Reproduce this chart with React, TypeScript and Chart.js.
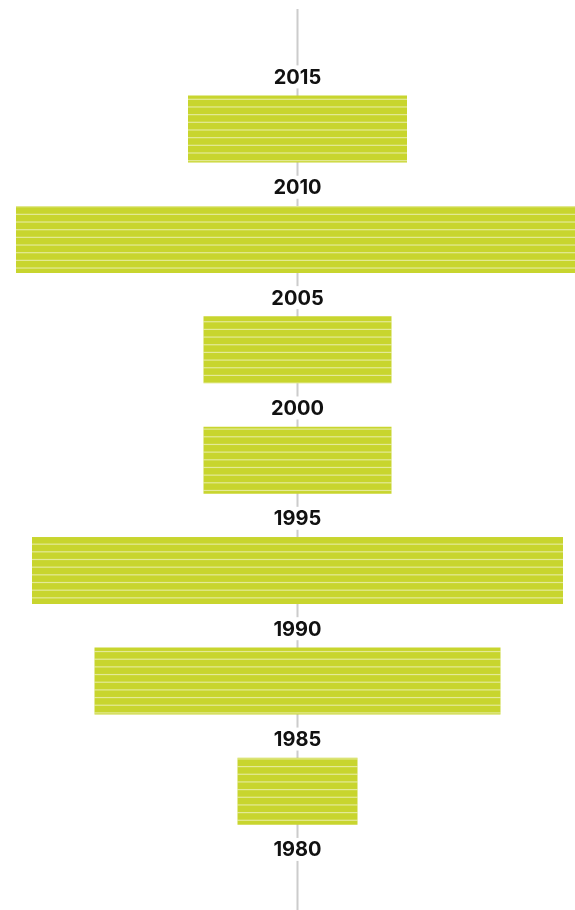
import React, { useEffect, useRef } from "react";
import { Chart, registerables } from "chart.js";

Chart.register(...registerables);

// Data
const YEAR_LABELS = [1980, 1985, 1990, 1995, 2000, 2005, 2010, 2015];
const PERIOD_START = [1980, 1985, 1990, 1995, 2000, 2005, 2010];
const PERIOD_END = [1985, 1990, 1995, 2000, 2005, 2010, 2015];
const VALUES = [120, 406, 531, 188, 188, 563, 219];

// Styles
const BAR_COLOR = "#c8d52e";
const STRIPE_COLOR = "rgba(255,255,255,0.5)";
const STRIPE_PERIOD = 7.67;
const STRIPE_ANCHOR = 99.3;
const LINE_COLOR = "#cccccc";
const TEXT_COLOR = "#111111";
const LABEL_FONT = "bold 20px Inter, Roboto, 'Liberation Sans', sans-serif";

const centerLinePlugin = {
  id: "centerLine",
  beforeDatasetsDraw(chart: any) {
    const { ctx, chartArea, scales } = chart;
    const x = scales.x.getPixelForValue(0);
    ctx.save();
    ctx.strokeStyle = LINE_COLOR;
    ctx.lineWidth = 2;
    ctx.beginPath();
    ctx.moveTo(x, chartArea.top);
    ctx.lineTo(x, chartArea.bottom);
    ctx.stroke();
    ctx.restore();
  },
};

const stripesPlugin = {
  id: "stripes",
  afterDatasetsDraw(chart: any) {
    const { ctx, chartArea } = chart;
    const meta = chart.getDatasetMeta(0);
    ctx.save();
    ctx.beginPath();
    ctx.rect(chartArea.left, chartArea.top, chartArea.right - chartArea.left, chartArea.bottom - chartArea.top);
    ctx.clip();
    ctx.fillStyle = STRIPE_COLOR;
    meta.data.forEach((el: any) => {
      const p = el.getProps(["x", "y", "base", "height"], true);
      const left = Math.min(p.x, p.base);
      const right = Math.max(p.x, p.base);
      const top = p.y - p.height / 2;
      const bottom = p.y + p.height / 2;
      const k = Math.ceil((top - 0.6 - STRIPE_ANCHOR) / STRIPE_PERIOD);
      for (let y = STRIPE_ANCHOR + k * STRIPE_PERIOD; y <= bottom + 0.6; y += STRIPE_PERIOD) {
        const y0 = Math.max(top, y - 0.6);
        const y1 = Math.min(bottom, y + 0.6);
        if (y1 > y0) ctx.fillRect(left, y0, right - left, y1 - y0);
      }
    });
    ctx.restore();
  },
};

const yearLabelPlugin = {
  id: "yearLabels",
  afterDatasetsDraw(chart: any) {
    const { ctx, scales } = chart;
    const x = scales.x.getPixelForValue(0);
    ctx.save();
    ctx.font = LABEL_FONT;
    ctx.textAlign = "center";
    ctx.textBaseline = "middle";
    scales.y.ticks.forEach((t: any) => {
      const y = scales.y.getPixelForValue(t.value) + 3;
      const text = String(t.value);
      const w = ctx.measureText(text).width + 10;
      ctx.fillStyle = "#ffffff";
      ctx.fillRect(x - w / 2, y - 11.5, w, 23);
      ctx.fillStyle = TEXT_COLOR;
      ctx.fillText(text, x, y + 1);
    });
    ctx.restore();
  },
};

export default function App() {
  const canvasRef = useRef<HTMLCanvasElement | null>(null);

  useEffect(() => {
    const canvas = canvasRef.current;
    if (!canvas) return;
    const data = VALUES.map((v, i) => ({
      x: [-v / 2, v / 2],
      y: (PERIOD_START[i] + PERIOD_END[i]) / 2,
    }));
    const chart = new Chart(canvas, {
      type: "bar",
      data: {
        datasets: [
          {
            data: data as any,
            backgroundColor: BAR_COLOR,
            borderWidth: 0,
            categoryPercentage: 1,
            barPercentage: 0.607,
          },
        ],
      },
      options: {
        indexAxis: "y",
        animation: false,
        responsive: false,
        events: [],
        layout: { padding: { top: 9, left: 0, right: 0, bottom: 0 } },
        plugins: {
          legend: { display: false },
          tooltip: { enabled: false },
        },
        scales: {
          x: { type: "linear", min: -297.5, max: 277.5, display: false, offset: false },
          y: {
            type: "linear",
            min: 1977.12,
            max: 2017.94,
            display: false,
            offset: false,
            afterBuildTicks: (scale: any) => {
              scale.ticks = YEAR_LABELS.map((v) => ({ value: v }));
            },
          },
        },
      },
      plugins: [centerLinePlugin, stripesPlugin, yearLabelPlugin],
    });
    return () => chart.destroy();
  }, []);

  return (
    <div style={{ position: "absolute", left: 0, top: 0, width: 575, height: 910, background: "#ffffff" }}>
      <canvas ref={canvasRef} width={575} height={910} style={{ display: "block" }} />
    </div>
  );
}
